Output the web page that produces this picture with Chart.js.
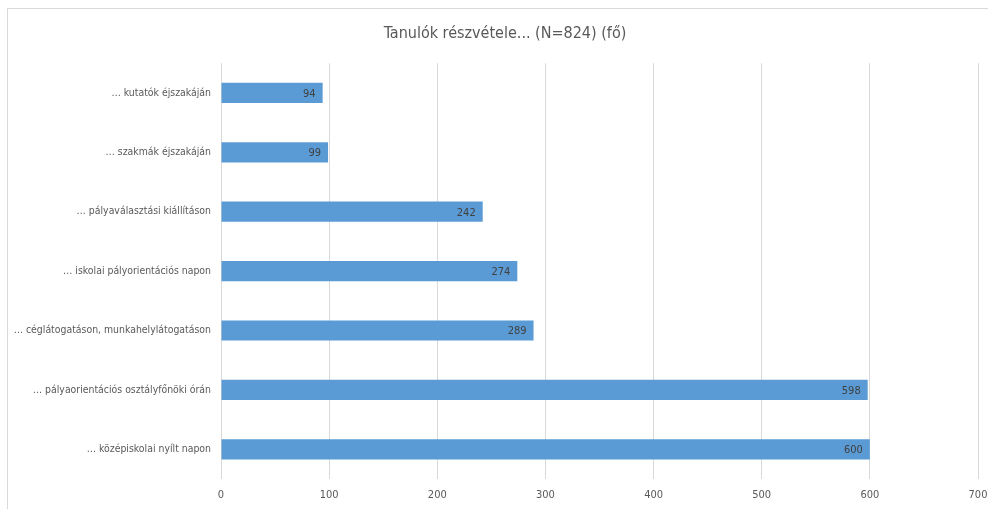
<!DOCTYPE html>
<html>
<head>
<meta charset="utf-8">
<script src="https://cdn.jsdelivr.net/npm/chart.js@4/dist/chart.umd.min.js"></script>
<style>
  html, body { margin: 0; padding: 0; background: #ffffff; }
  #wrap { position: relative; width: 988px; height: 509px; }
  #frame { position: absolute; left: 7px; top: 8px; width: 990px; height: 510px;
           border-left: 1px solid #d9d9d9; border-top: 1px solid #d9d9d9; }
  canvas { position: absolute; left: 0; top: 0; }
</style>
</head>
<body>
<div id="wrap">
  <div id="frame"></div>
  <canvas id="c" width="988" height="509"></canvas>
</div>
<script>
const categories = [
  '… kutatók éjszakáján',
  '… szakmák éjszakáján',
  '… pályaválasztási kiállításon',
  '… iskolai pályorientációs napon',
  '… céglátogatáson, munkahelylátogatáson',
  '… pályaorientációs osztályfőnöki órán',
  '… középiskolai nyílt napon'
];
const participants = [94, 99, 242, 274, 289, 598, 600];
const xTicks = [0, 100, 200, 300, 400, 500, 600, 700];

const FONT = "'DejaVu Sans Condensed', 'Liberation Sans Narrow', sans-serif";

// Value labels drawn inside the end of each bar
const barValueLabels = {
  id: 'barValueLabels',
  afterDatasetsDraw(chart) {
    const ctx = chart.ctx;
    const meta = chart.getDatasetMeta(0);
    ctx.save();
    ctx.font = "11px " + FONT;
    ctx.fillStyle = '#404040';
    ctx.textAlign = 'right';
    ctx.textBaseline = 'middle';
    meta.data.forEach((bar, i) => {
      ctx.fillText(String(participants[i]), bar.x - 7, bar.y + 1);
    });
    ctx.restore();
  }
};

new Chart(document.getElementById('c'), {
  type: 'bar',
  data: {
    labels: categories,
    datasets: [{
      data: participants,
      backgroundColor: '#5b9bd5',
      borderWidth: 0,
      categoryPercentage: 1,
      barPercentage: 0.34
    }]
  },
  options: {
    indexAxis: 'y',
    responsive: false,
    animation: false,
    devicePixelRatio: 1,
    layout: { padding: { left: 32, right: 10, top: 0, bottom: 0 } },
    plugins: {
      legend: { display: false },
      tooltip: { enabled: false },
      title: {
        display: true,
        text: 'Tanulók részvétele... (N=824) (fő)',
        color: '#595959',
        font: { family: FONT, size: 16, weight: 'normal' },
        padding: { top: 24, bottom: 20 }
      }
    },
    scales: {
      x: {
        min: 0,
        max: 700,
        afterBuildTicks(axis) { axis.ticks = xTicks.map(v => ({ value: v })); },
        afterFit(axis) { axis.height = 30; axis.paddingRight = 0; axis.paddingLeft = 0; },
        grid: { color: '#d9d9d9', lineWidth: 1, drawTicks: false },
        border: { display: false },
        ticks: {
          color: '#595959',
          padding: 10,
          font: { family: FONT, size: 11 }
        }
      },
      y: {
        afterFit(axis) {
          axis.width = 189;
          // long category names may run left of the axis box; don't clip them
          axis._computeLabelArea = () => undefined;
        },
        grid: { display: false, drawTicks: false },
        border: { display: false },
        ticks: {
          color: '#595959',
          padding: 10,
          font: { family: FONT, size: 10.4 }
        }
      }
    }
  },
  plugins: [barValueLabels]
});
</script>
</body>
</html>
